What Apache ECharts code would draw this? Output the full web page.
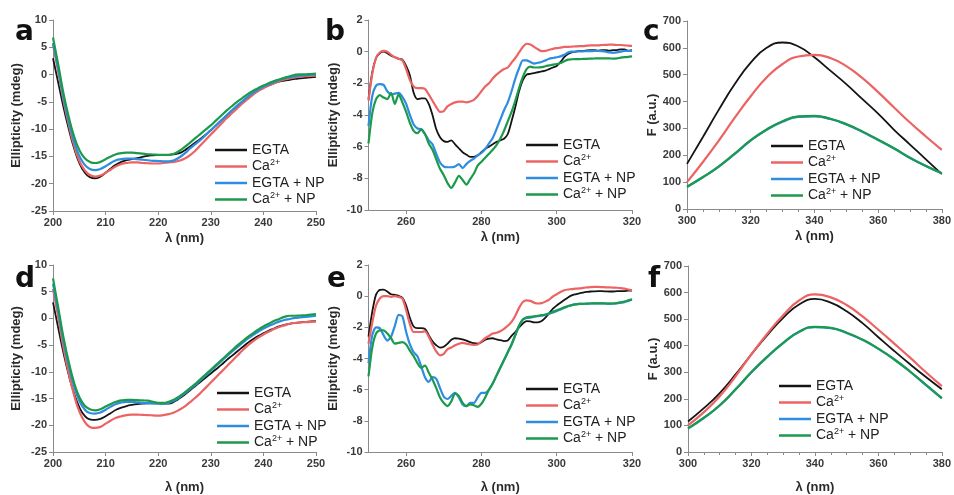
<!DOCTYPE html>
<html><head><meta charset="utf-8">
<script src="https://cdn.jsdelivr.net/npm/echarts@6/dist/echarts.min.js"></script>
<style>html,body{margin:0;padding:0;background:#fff}#c{width:954px;height:495px}</style>
</head><body><div id="c"></div>
<script>
// ---------- categories / x values ----------
const wlFar = [200,201,202,203,204,205,206,207,208,209,210,211,212,213,214,215,216,217,218,219,220,221,222,223,224,225,226,227,228,229,230,231,232,233,234,235,236,237,238,239,240,241,242,243,244,245,246,247,248,249,250];
const wlNear = [250,251,252,253,254,255,256,257,258,259,260,261,262,263,264,265,266,267,268,269,270,271,272,273,274,275,276,277,278,279,280,281,282,283,284,285,286,287,288,289,290,291,292,293,294,295,296,297,298,299,300,301,302,303,304,305,306,307,308,309,310,311,312,313,314,315,316,317,318,319,320];
const wlFluo = [300,305,310,315,320,325,330,335,340,345,350,355,360,365,370,375,380];
const seriesNames = ['EGTA','Ca2+','EGTA + NP','Ca2+ + NP'];

// ---------- panel a (far-UV CD) ----------
const aEGTA = [3.0,-1.5,-6.0,-10.0,-13.5,-16.2,-17.9,-18.8,-19.0,-18.7,-18.0,-17.2,-16.5,-16.0,-15.7,-15.5,-15.3,-15.1,-14.9,-14.8,-14.75,-14.7,-14.7,-14.6,-14.4,-13.9,-13.2,-12.5,-11.8,-11.0,-10.2,-9.3,-8.4,-7.5,-6.6,-5.8,-5.0,-4.2,-3.5,-2.9,-2.4,-2.0,-1.6,-1.3,-1.1,-0.95,-0.8,-0.7,-0.6,-0.5,-0.4];
const aCa = [5.5,0.5,-4.8,-9.2,-13.0,-15.8,-17.5,-18.4,-18.7,-18.5,-18.0,-17.4,-16.8,-16.4,-16.2,-16.1,-16.1,-16.2,-16.25,-16.3,-16.3,-16.2,-16.1,-16.0,-15.8,-15.4,-14.8,-14.0,-13.0,-12.0,-11.0,-10.0,-9.0,-8.0,-7.1,-6.2,-5.3,-4.5,-3.7,-3.0,-2.5,-2.0,-1.6,-1.2,-0.9,-0.7,-0.5,-0.4,-0.3,-0.25,-0.2];
const aEGTANP = [5.8,1.0,-4.3,-8.6,-12.2,-14.9,-16.5,-17.3,-17.5,-17.3,-16.8,-16.2,-15.7,-15.5,-15.4,-15.4,-15.5,-15.6,-15.7,-15.8,-15.85,-15.9,-15.9,-15.7,-15.2,-14.5,-13.6,-12.8,-12.0,-11.1,-10.2,-9.3,-8.4,-7.5,-6.6,-5.7,-4.9,-4.1,-3.4,-2.8,-2.2,-1.8,-1.4,-1.0,-0.7,-0.5,-0.3,-0.2,-0.1,0.0,0.0];
const aCaNP = [6.8,1.8,-3.5,-7.8,-11.3,-13.8,-15.3,-16.0,-16.2,-16.0,-15.5,-15.0,-14.6,-14.4,-14.3,-14.3,-14.4,-14.5,-14.6,-14.65,-14.7,-14.7,-14.7,-14.5,-14.0,-13.3,-12.5,-11.7,-10.9,-10.1,-9.3,-8.4,-7.5,-6.6,-5.8,-5.0,-4.3,-3.6,-3.0,-2.5,-2.0,-1.6,-1.2,-0.9,-0.6,-0.3,-0.05,0.05,0.05,0.1,0.2];

// ---------- panel b (near-UV CD) ----------
const bEGTA = [-3.0,-1.3,-0.4,-0.1,0.0,-0.1,-0.25,-0.35,-0.45,-0.5,-0.9,-1.5,-2.6,-3.0,-2.95,-2.95,-3.3,-4.0,-4.9,-5.4,-5.65,-5.7,-5.6,-5.85,-6.1,-6.35,-6.5,-6.65,-6.65,-6.55,-6.35,-6.15,-6.0,-5.85,-5.7,-5.6,-5.5,-5.2,-4.4,-3.5,-2.5,-1.8,-1.45,-1.4,-1.35,-1.3,-1.25,-1.2,-1.1,-1.0,-0.9,-0.65,-0.35,-0.15,-0.05,0.0,0.05,0.05,0.08,0.1,0.1,0.05,0.1,0.1,0.05,0.1,0.1,0.15,0.15,0.05,0.1];
const bCa = [-3.1,-1.4,-0.4,-0.05,0.05,0.0,-0.2,-0.35,-0.45,-0.55,-1.1,-1.8,-2.2,-2.3,-2.3,-2.35,-2.7,-3.1,-3.5,-3.8,-3.75,-3.45,-3.3,-3.2,-3.15,-3.15,-3.2,-3.15,-3.05,-2.8,-2.5,-2.2,-2.0,-1.7,-1.45,-1.26,-1.1,-1.0,-0.7,-0.4,-0.05,0.3,0.5,0.45,0.3,0.15,0.03,0.05,0.12,0.18,0.22,0.25,0.3,0.3,0.32,0.33,0.35,0.35,0.38,0.4,0.4,0.4,0.42,0.43,0.44,0.44,0.42,0.42,0.4,0.38,0.36];
const bEGTANP = [-4.7,-2.8,-2.15,-2.05,-2.1,-2.5,-2.7,-2.65,-2.6,-2.85,-3.3,-4.0,-4.6,-4.85,-4.9,-5.2,-5.6,-5.85,-6.45,-7.0,-7.25,-7.3,-7.3,-7.25,-7.1,-7.35,-7.1,-6.9,-6.75,-6.55,-6.4,-6.15,-5.8,-5.45,-4.9,-4.3,-3.7,-3.2,-2.5,-1.7,-1.05,-0.55,-0.55,-0.65,-0.75,-0.7,-0.65,-0.55,-0.45,-0.4,-0.35,-0.3,-0.2,-0.05,0.0,0.0,0.02,0.02,0.03,0.03,0.05,0.05,0.03,0.0,-0.05,-0.08,-0.05,0.0,0.05,0.05,0.05];
const bCaNP = [-5.8,-3.9,-3.0,-2.75,-2.9,-3.0,-2.6,-3.3,-2.7,-3.2,-3.8,-4.5,-5.0,-5.15,-4.9,-5.2,-5.8,-6.2,-6.8,-7.4,-7.8,-8.3,-8.6,-8.25,-7.85,-8.1,-8.4,-8.05,-7.7,-7.2,-6.95,-6.7,-6.45,-6.2,-5.9,-5.5,-5.0,-4.4,-3.8,-3.1,-2.3,-1.6,-1.1,-0.95,-1.0,-1.0,-0.98,-0.92,-0.87,-0.82,-0.78,-0.72,-0.6,-0.5,-0.48,-0.47,-0.47,-0.46,-0.45,-0.44,-0.43,-0.42,-0.42,-0.42,-0.42,-0.44,-0.42,-0.38,-0.35,-0.33,-0.3];

// ---------- panel c (fluorescence) ----------
const cEGTA = [168,268,370,465,545,600,620,605,565,515,465,410,355,295,240,185,130];
const cCa = [100,175,255,340,420,490,540,568,574,562,532,488,435,378,322,270,220];
const cEGTANP = [82,118,158,205,255,295,325,343,345,335,315,288,257,225,190,160,133];
const cCaNP = [83,119,159,206,256,296,327,345,347,336,316,289,258,226,191,160,133];

// ---------- panel d (far-UV CD) ----------
const dEGTA = [3.0,-1.8,-6.5,-10.6,-14.0,-16.6,-18.2,-18.9,-19.0,-18.8,-18.3,-17.7,-17.1,-16.7,-16.4,-16.2,-16.05,-15.95,-15.9,-15.9,-15.9,-15.95,-15.95,-15.6,-15.0,-14.3,-13.5,-12.7,-11.9,-11.1,-10.3,-9.5,-8.7,-7.8,-7.0,-6.2,-5.4,-4.6,-3.9,-3.3,-2.8,-2.3,-1.9,-1.5,-1.2,-1.0,-0.85,-0.75,-0.65,-0.55,-0.5];
const dCa = [5.5,0.2,-5.5,-10.3,-14.3,-17.4,-19.3,-20.3,-20.5,-20.3,-19.7,-19.1,-18.6,-18.3,-18.1,-18.0,-18.0,-18.05,-18.1,-18.15,-18.2,-18.1,-17.9,-17.6,-17.1,-16.5,-15.7,-14.9,-14.0,-13.0,-12.0,-11.0,-10.0,-9.0,-8.0,-7.0,-6.0,-5.1,-4.3,-3.6,-3.0,-2.5,-2.0,-1.6,-1.3,-1.0,-0.85,-0.75,-0.7,-0.65,-0.6];
const dEGTANP = [6.5,1.3,-4.3,-8.9,-12.7,-15.4,-17.0,-17.7,-17.8,-17.6,-17.1,-16.5,-16.0,-15.7,-15.6,-15.6,-15.7,-15.8,-15.85,-15.9,-15.95,-15.95,-15.8,-15.4,-14.8,-14.1,-13.3,-12.5,-11.6,-10.7,-9.8,-8.9,-8.0,-7.1,-6.2,-5.4,-4.6,-3.8,-3.1,-2.5,-1.9,-1.4,-1.0,-0.6,-0.3,-0.1,0.1,0.2,0.3,0.4,0.5];
const dCaNP = [7.5,2.0,-3.6,-8.2,-12.0,-14.7,-16.3,-17.0,-17.2,-17.0,-16.5,-16.0,-15.6,-15.35,-15.25,-15.25,-15.3,-15.35,-15.4,-15.6,-15.8,-15.8,-15.6,-15.2,-14.6,-13.9,-13.1,-12.3,-11.4,-10.5,-9.6,-8.7,-7.8,-6.9,-6.0,-5.1,-4.3,-3.5,-2.8,-2.1,-1.5,-1.0,-0.5,-0.1,0.3,0.5,0.5,0.55,0.6,0.7,0.8];

// ---------- panel e (near-UV CD) ----------
const eEGTA = [-2.6,-1.0,0.1,0.4,0.42,0.3,0.12,0.08,0.02,-0.1,-0.6,-1.4,-1.95,-2.05,-2.05,-2.1,-2.5,-2.9,-3.15,-3.3,-3.25,-3.05,-2.8,-2.7,-2.72,-2.78,-2.85,-2.95,-3.02,-3.05,-2.95,-2.8,-2.72,-2.7,-2.78,-2.82,-2.88,-2.85,-2.55,-2.3,-2.0,-1.75,-1.6,-1.62,-1.68,-1.68,-1.6,-1.38,-1.1,-0.8,-0.6,-0.42,-0.25,-0.08,0.05,0.12,0.18,0.23,0.27,0.3,0.31,0.32,0.32,0.31,0.3,0.3,0.32,0.32,0.33,0.35,0.36];
const eCa = [-3.05,-1.7,-0.6,-0.15,0.0,0.0,-0.05,0.0,-0.05,-0.15,-0.9,-1.8,-2.3,-2.3,-2.3,-2.25,-2.6,-3.1,-3.55,-3.8,-3.7,-3.4,-3.3,-3.15,-3.05,-3.0,-3.05,-3.1,-3.12,-3.1,-2.9,-2.7,-2.55,-2.4,-2.35,-2.25,-2.1,-1.9,-1.65,-1.25,-0.75,-0.38,-0.27,-0.3,-0.42,-0.47,-0.45,-0.35,-0.22,-0.02,0.12,0.27,0.38,0.43,0.45,0.48,0.5,0.53,0.56,0.58,0.59,0.59,0.58,0.57,0.56,0.55,0.54,0.52,0.48,0.43,0.38];
const eEGTANP = [-4.3,-2.5,-2.0,-2.05,-2.5,-2.85,-2.6,-1.9,-1.2,-1.3,-2.3,-3.1,-3.6,-3.85,-4.5,-5.2,-5.5,-5.2,-5.3,-5.9,-6.45,-6.6,-6.4,-6.2,-6.5,-6.95,-7.05,-6.85,-6.85,-6.5,-6.2,-6.2,-6.0,-5.6,-5.1,-4.6,-4.1,-3.6,-3.1,-2.5,-1.9,-1.5,-1.4,-1.38,-1.32,-1.28,-1.25,-1.2,-1.13,-1.05,-0.95,-0.85,-0.75,-0.65,-0.58,-0.53,-0.5,-0.49,-0.48,-0.47,-0.46,-0.46,-0.46,-0.47,-0.48,-0.48,-0.46,-0.42,-0.38,-0.3,-0.22];
const eCaNP = [-5.15,-3.3,-2.4,-2.2,-2.2,-2.4,-2.7,-3.05,-3.0,-2.95,-3.1,-3.5,-3.85,-4.3,-4.6,-4.45,-4.9,-5.35,-5.9,-6.5,-6.85,-7.05,-6.75,-6.25,-6.4,-6.85,-7.05,-6.95,-7.0,-7.1,-6.9,-6.5,-6.0,-5.6,-5.1,-4.6,-4.1,-3.6,-3.1,-2.5,-1.9,-1.5,-1.35,-1.33,-1.3,-1.26,-1.22,-1.18,-1.1,-1.0,-0.9,-0.82,-0.72,-0.63,-0.57,-0.53,-0.5,-0.49,-0.48,-0.47,-0.46,-0.46,-0.46,-0.47,-0.48,-0.47,-0.44,-0.4,-0.34,-0.27,-0.2];

// ---------- panel f (fluorescence) ----------
const fEGTA = [115,165,222,292,368,440,505,555,576,562,530,485,432,380,330,282,236];
const fCa = [100,150,210,285,368,445,515,570,593,582,553,510,460,408,355,300,248];
const fEGTANP = [88,128,175,235,300,358,410,452,470,466,448,422,388,348,302,252,202];
const fCaNP = [89,129,176,236,301,359,411,453,471,467,449,423,389,349,303,253,203];

// ---------- tick values ----------
const farTicks = [200,210,220,230,240,250];
const nearTicks = [260,280,300,320];
const fluoTicks = [300,320,340,360,380];
const cdFarYTicks = [-25,-20,-15,-10,-5,0,5,10];
const cdNearYTicks = [-10,-8,-6,-4,-2,0,2];
const fluoYTicks = [0,100,200,300,400,500,600,700];
const panelLetters = ['a','b','c','d','e','f'];

// ---------- styling ----------
const colors = ['#141414','#ec6363','#2e8ddf','#1c9a4c'];
const widths = [1.8,2.2,2.2,2.2];
const FONT = '"Liberation Sans", Arial, sans-serif';
const tickLabelStyle = {color:'#3a3a3a', fontSize:11, fontWeight:'bold', fontFamily:FONT};
const axisLineStyle = {onZero:false, lineStyle:{color:'#8a8a8a', width:1}};

const grids = [
  {left:53,  top:20,  width:263, height:191},
  {left:368.5, top:20, width:263.5, height:190},
  {left:687, top:21,  width:261, height:188},
  {left:53,  top:265, width:263, height:191},
  {left:368.5, top:265, width:263.5, height:190},
  {left:688, top:266, width:262, height:188}
];
const panelKind = ['far','near','fluo','far','near','fluo'];
const panelData = [
  [aEGTA,aCa,aEGTANP,aCaNP],
  [bEGTA,bCa,bEGTANP,bCaNP],
  [cEGTA,cCa,cEGTANP,cCaNP],
  [dEGTA,dCa,dEGTANP,dCaNP],
  [eEGTA,eCa,eEGTANP,eCaNP],
  [fEGTA,fCa,fEGTANP,fCaNP]
];
const xFor = {far:wlFar, near:wlNear, fluo:wlFluo};
const legendPos = [
  {left:210, top:137}, {left:521, top:132}, {left:766, top:133},
  {left:212, top:380}, {left:521, top:376}, {left:774, top:373}
];
const letterPos = [[15,40],[325,40],[643,40],[15,287],[327,287],[648,287]];
const xNameGap = [21,21,21,29,29,29];

const xAxes = [], yAxes = [], series = [], legends = [], graphics = [];
grids.forEach((g,i)=>{
  const k = panelKind[i];
  let xa = {type:'value', gridIndex:i, splitLine:{show:false}, axisLine:axisLineStyle,
    axisTick:{show:true, inside:false, length:4, lineStyle:{color:'#8a8a8a'}},
    axisLabel:Object.assign({margin:6}, tickLabelStyle),
    name:'λ (nm)', nameLocation:'middle', nameGap:xNameGap[i],
    nameTextStyle:{color:'#2a2a2a', fontSize:13, fontWeight:'bold', fontFamily:FONT}};
  let ya = {type:'value', gridIndex:i, splitLine:{show:false}, axisLine:Object.assign({show:true},axisLineStyle),
    axisTick:{show:true, inside:false, length:4, lineStyle:{color:'#8a8a8a'}},
    axisLabel:Object.assign({margin:6}, tickLabelStyle),
    nameLocation:'middle', nameTextStyle:{color:'#2a2a2a', fontSize:13, fontWeight:'bold', fontFamily:FONT}};
  if (k==='far') {
    Object.assign(xa,{min:farTicks[0], max:farTicks[farTicks.length-1], interval:10});
    Object.assign(ya,{min:cdFarYTicks[0], max:cdFarYTicks[cdFarYTicks.length-1], interval:5, name:'Ellipticity (mdeg)', nameGap:30});
  } else if (k==='near') {
    Object.assign(xa,{min:250, max:320});
    xa.axisLabel.customValues = nearTicks;
    xa.axisTick.customValues = nearTicks;
    Object.assign(ya,{min:cdNearYTicks[0], max:cdNearYTicks[cdNearYTicks.length-1], interval:2, name:'Ellipticity (mdeg)', nameGap:29});
  } else {
    Object.assign(xa,{min:fluoTicks[0], max:fluoTicks[fluoTicks.length-1], interval:20,
      minorTick:{show:true, splitNumber:4, length:3, lineStyle:{color:'#8a8a8a'}}});
    Object.assign(ya,{min:fluoYTicks[0], max:fluoYTicks[fluoYTicks.length-1], interval:100, name:'F (a.u.)', nameGap:28});
  }
  xAxes.push(xa); yAxes.push(ya);
  const xs = xFor[k];
  panelData[i].forEach((vals,j)=>{
    series.push({type:'line', name:seriesNames[j], xAxisIndex:i, yAxisIndex:i,
      data: xs.map((x,n)=>[x, vals[n]]), showSymbol:false, symbol:'none',
      smooth: k==='near' ? 0.25 : 0.5,
      lineStyle:{color:colors[j], width:widths[j]}, itemStyle:{color:colors[j]},
      z: 2+j});
  });
  legends.push({orient:'vertical', left:legendPos[i].left, top:legendPos[i].top,
    data:seriesNames, icon:'rect', itemWidth:32, itemHeight:2.5, itemGap:0.5,
    selectedMode:false,
    formatter: n => n.replace(/Ca2\+/, '{t|Ca}{s|2+}').replace(/^([^{].*)$/, '{t|$1}').replace(/(\{s\|2\+\})(.*)$/, (m,a,b)=> a + (b ? '{t|'+b+'}' : '')),
    textStyle:{color:'#222', fontSize:14, fontFamily:FONT, lineHeight:16,
      rich:{t:{fontSize:14, color:'#222', fontFamily:FONT, lineHeight:16},
            s:{fontSize:9, color:'#222', fontFamily:FONT, lineHeight:16, verticalAlign:'top', padding:[0,0,0,0]}}}});
  graphics.push({type:'text', left:letterPos[i][0], top:letterPos[i][1]-21,
    style:{text:panelLetters[i], font:'bold 28px "DejaVu Sans", sans-serif', fill:'#111'}});
});

const chart = echarts.init(document.getElementById('c'), null, {renderer:'canvas'});
chart.setOption({
  backgroundColor:'#fff', animation:false,
  grid:grids, xAxis:xAxes, yAxis:yAxes, series:series, legend:legends, graphic:graphics
});
</script></body></html>
